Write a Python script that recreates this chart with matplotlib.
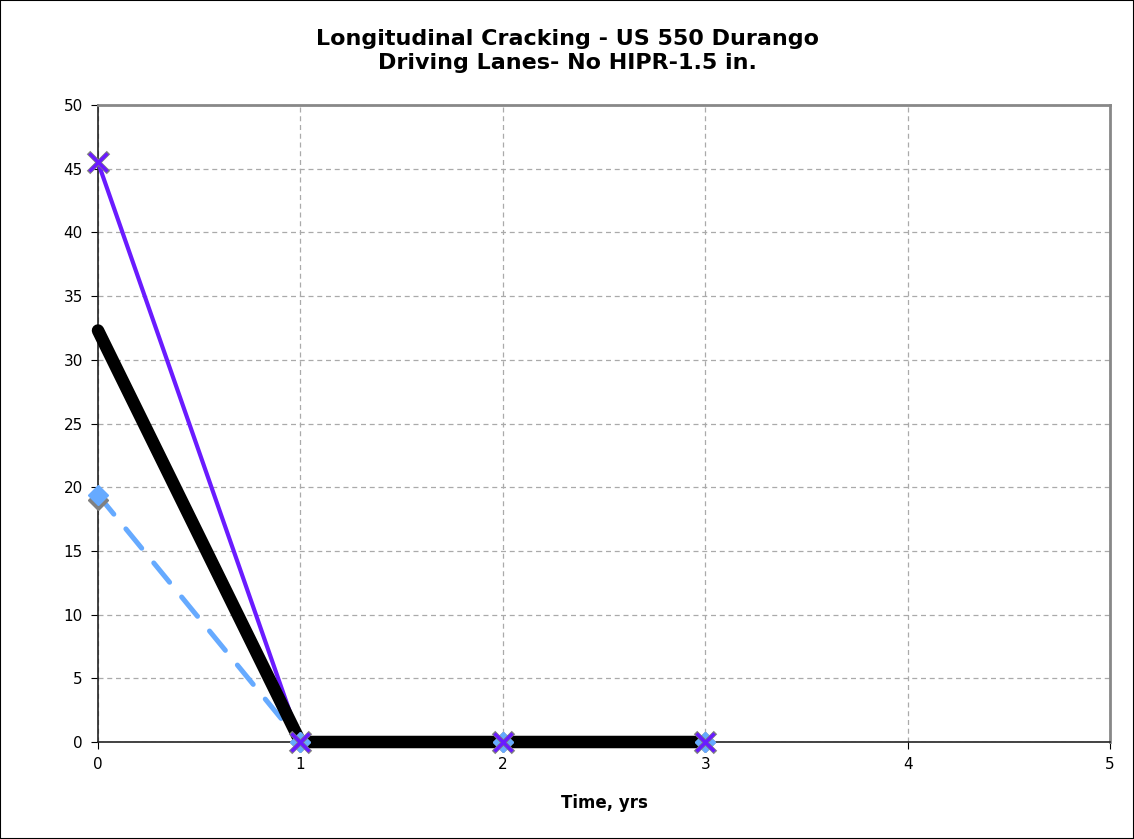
import matplotlib
matplotlib.use("Agg")
import matplotlib.pyplot as plt
from matplotlib.patches import Rectangle

years = [0, 1, 2, 3]
gray_diamond = [19.0, 0, 0, 0]
blue_dashed = [19.4, 0, 0, 0]
gray_cross = [45.5, 0, 0, 0]
purple_cross = [45.5, 0, 0, 0]
average = [32.3, 0, 0, 0]

x_ticks = [0, 1, 2, 3, 4, 5]
y_ticks = list(range(0, 55, 5))

plt.rcParams['font.family'] = ['DejaVu Sans']

fig = plt.figure(figsize=(11.34, 8.39), dpi=100)
ax = fig.add_axes([98 / 1134, 1 - 742 / 839, (1110 - 98) / 1134, (742 - 105) / 839])

# connecting lines (drawn beneath the thick average line)
ax.plot(years, blue_dashed, color='#66AAFF', lw=3.6, ls=(0, (5, 3.8)),
        zorder=3, dash_capstyle='round', clip_on=False)
ax.plot(years, purple_cross, color='#6A1BFF', lw=3, zorder=3.5, clip_on=False)
ax.plot(years, average, color='black', lw=9, solid_capstyle='round', zorder=4,
        clip_on=False)

# point markers on top
ax.plot(years, gray_diamond, ls='none', marker='D', ms=10,
        mfc='#808080', mec='#808080', zorder=5, clip_on=False)
ax.plot(years, blue_dashed, ls='none', marker='D', ms=10,
        mfc='#66AAFF', mec='#66AAFF', zorder=6, clip_on=False)
ax.plot(years, gray_cross, ls='none', color='#808080', marker='x', ms=14,
        mew=3.5, zorder=7, clip_on=False)
ax.plot(years, purple_cross, ls='none', color='#6A1BFF', marker='x', ms=13,
        mew=2.5, zorder=8, clip_on=False)

ax.set_xlim(0, 5)
ax.set_ylim(0, 50)
ax.set_xticks(x_ticks)
ax.set_yticks(y_ticks)
ax.tick_params(axis='both', labelsize=11, length=5, direction='out', pad=6)
ax.grid(True, color='#aaaaaa', ls=(0, (4, 3)), lw=0.9)
ax.set_axisbelow(True)

for side in ['top', 'right']:
    ax.spines[side].set_color('#888888')
    ax.spines[side].set_linewidth(2)
for side in ['left', 'bottom']:
    ax.spines[side].set_color('#222222')
    ax.spines[side].set_linewidth(1.2)
    ax.spines[side].set_zorder(2.5)

ax.set_xlabel('Time, yrs', fontsize=12, fontweight='bold', labelpad=16)
fig.text(0.5, 1 - 51 / 839, 'Longitudinal Cracking - US 550 Durango\nDriving Lanes- No HIPR-1.5 in.',
         ha='center', va='center', fontsize=16, fontweight='bold', linespacing=1.3)

fig.patches.append(Rectangle((0, 0), 1, 1, transform=fig.transFigure, fill=False,
                             edgecolor='black', lw=1.5))

fig.savefig('out.png', dpi=100)
